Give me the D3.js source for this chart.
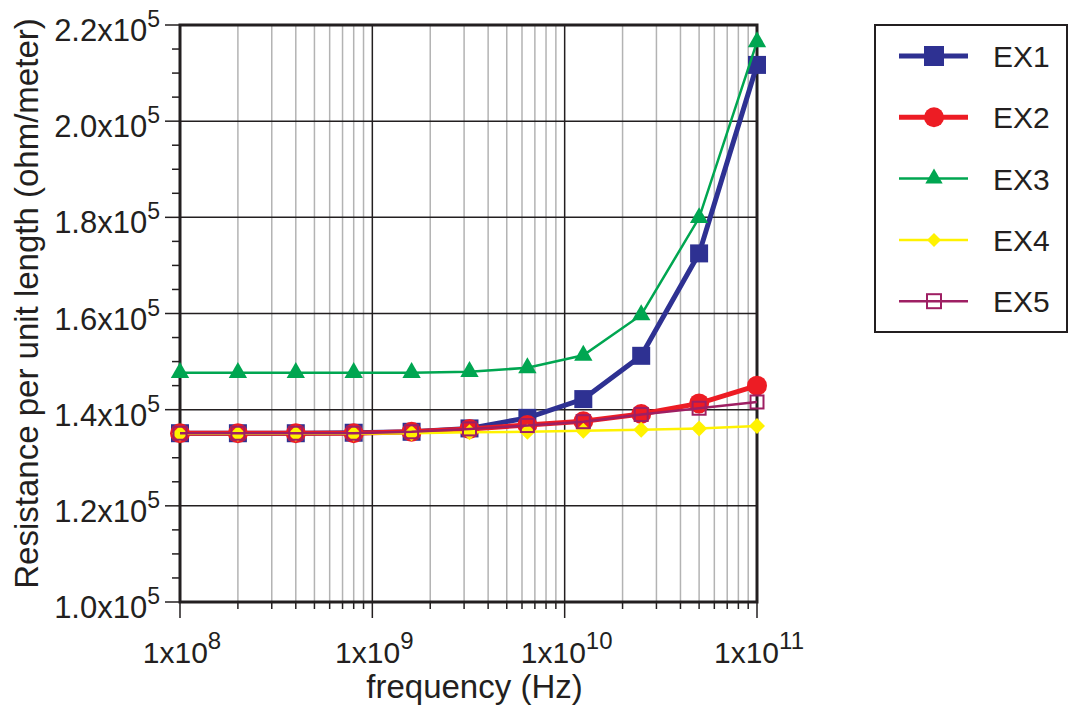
<!DOCTYPE html>
<html>
<head>
<meta charset="utf-8">
<script src="https://cdn.jsdelivr.net/npm/d3@7"></script>
<style>
  body { margin: 0; background: #fff; }
  text { font-family: "Liberation Sans", Arial, Helvetica, sans-serif; fill: #231f20; }
</style>
</head>
<body>
<div id="chart"></div>
<script>
// frequencies (Hz)
const freqs = [1e8, 2e8, 4e8, 8e8, 1.6e9, 3.2e9, 6.4e9, 1.25e10, 2.5e10, 5e10, 1e11];

// resistance per unit length, in units of 1e5 ohm/m
const ex1 = [1.351, 1.351, 1.351, 1.352, 1.354, 1.361, 1.383, 1.422, 1.512, 1.725, 2.117];
const ex2 = [1.351, 1.351, 1.351, 1.351, 1.354, 1.360, 1.368, 1.376, 1.391, 1.413, 1.450];
const ex3 = [1.477, 1.477, 1.477, 1.477, 1.477, 1.479, 1.487, 1.513, 1.597, 1.799, 2.165];
const ex4 = [1.350, 1.350, 1.350, 1.350, 1.351, 1.353, 1.354, 1.356, 1.358, 1.361, 1.366];
const ex5 = [1.351, 1.351, 1.351, 1.351, 1.354, 1.360, 1.367, 1.375, 1.390, 1.403, 1.416];

const seriesNames = ["EX1", "EX2", "EX3", "EX4", "EX5"];
const yTicks = [1.0, 1.2, 1.4, 1.6, 1.8, 2.0, 2.2];
const xTicks = [1e8, 1e9, 1e10, 1e11];

const styles = {
  EX1: { color: "#2e3192", width: 5, shape: "square" },
  EX2: { color: "#ed1c24", width: 5, shape: "circle" },
  EX3: { color: "#00a651", width: 2.5, shape: "triangle" },
  EX4: { color: "#fff200", width: 2.5, shape: "diamond" },
  EX5: { color: "#9e1f63", width: 2.5, shape: "open" }
};

const series = [ex1, ex2, ex3, ex4, ex5].map((vals, i) => ({
  name: seriesNames[i],
  values: vals.map((v, j) => ({ f: freqs[j], r: v * 1e5 }))
}));

const W = 1068, H = 710;
const margin = { top: 25, right: 311, bottom: 108, left: 180 };
const width = W - margin.left - margin.right;
const height = H - margin.top - margin.bottom;

const svg = d3.select("#chart").append("svg")
  .attr("width", W).attr("height", H);

const g = svg.append("g").attr("transform", `translate(${margin.left},${margin.top})`);

const x = d3.scaleLog().domain([1e8, 1e11]).range([0, width]);
const y = d3.scaleLinear().domain([1.0e5, 2.2e5]).range([height, 0]);

// minor vertical gridlines
const minorX = [];
for (let e = 8; e < 11; e++) for (let m = 2; m <= 9; m++) minorX.push(m * Math.pow(10, e));

g.append("g").selectAll("line").data(minorX).join("line")
  .attr("x1", d => x(d)).attr("x2", d => x(d))
  .attr("y1", 0).attr("y2", height)
  .attr("stroke", "#b3b3b3").attr("stroke-width", 1.5);

g.append("g").selectAll("line").data(xTicks).join("line")
  .attr("x1", d => x(d)).attr("x2", d => x(d))
  .attr("y1", 0).attr("y2", height)
  .attr("stroke", "#231f20").attr("stroke-width", 1.5);

g.append("g").selectAll("line").data(yTicks).join("line")
  .attr("x1", 0).attr("x2", width)
  .attr("y1", d => y(d * 1e5)).attr("y2", d => y(d * 1e5))
  .attr("stroke", "#231f20").attr("stroke-width", 1.5);

// y axis ticks
const minorY = d3.range(1.0, 2.2001, 0.05).map(d => +d.toFixed(2));
g.append("g").selectAll("line").data(minorY).join("line")
  .attr("x1", d => yTicks.includes(d) ? -15 : -8).attr("x2", 0)
  .attr("y1", d => y(d * 1e5)).attr("y2", d => y(d * 1e5))
  .attr("stroke", "#231f20").attr("stroke-width", 1.5);

const yLab = g.append("g").selectAll("text").data(yTicks).join("text")
  .attr("x", -20).attr("y", d => y(d * 1e5) + 16)
  .attr("text-anchor", "end").attr("font-size", 31);
yLab.append("tspan").text(d => d.toFixed(1) + "x10");
yLab.append("tspan").attr("font-size", 23).attr("dy", -14).text("5");

// x axis ticks
g.append("g").selectAll("line").data(minorX.concat(xTicks)).join("line")
  .attr("x1", d => x(d)).attr("x2", d => x(d))
  .attr("y1", height).attr("y2", d => xTicks.includes(d) ? height + 16 : height + 7)
  .attr("stroke", "#231f20").attr("stroke-width", 1.5);

const xLab = g.append("g").selectAll("text").data(xTicks).join("text")
  .attr("x", d => x(d) + 2).attr("y", height + 61)
  .attr("text-anchor", "middle").attr("font-size", 30);
xLab.append("tspan").text("1x10");
xLab.append("tspan").attr("font-size", 24).attr("dy", -14).text(d => Math.round(Math.log10(d)));

// frame
g.append("rect").attr("width", width).attr("height", height)
  .attr("fill", "none").attr("stroke", "#231f20").attr("stroke-width", 3);

// axis titles
svg.append("text")
  .attr("x", margin.left + width / 2 + 6).attr("y", 698)
  .attr("text-anchor", "middle").attr("font-size", 33)
  .text("frequency (Hz)");

svg.append("text")
  .attr("transform", `translate(38, ${margin.top + height / 2 - 10}) rotate(-90)`)
  .attr("text-anchor", "middle").attr("font-size", 33)
  .text("Resistance per unit length (ohm/meter)");

// markers
function drawMarker(sel, shape, color, size) {
  if (shape === "square") {
    sel.append("rect").attr("x", -size / 2).attr("y", -size / 2)
      .attr("width", size).attr("height", size).attr("fill", color);
  } else if (shape === "circle") {
    sel.append("circle").attr("r", size / 2).attr("fill", color);
  } else if (shape === "triangle") {
    sel.append("path").attr("d", d3.symbol(d3.symbolTriangle, size * size * 0.45)()).attr("fill", color);
  } else if (shape === "diamond") {
    const h = size / 2;
    sel.append("path").attr("d", `M0,${-h}L${h},0L0,${h}L${-h},0Z`).attr("fill", color);
  } else if (shape === "open") {
    sel.append("rect").attr("x", -size / 2).attr("y", -size / 2)
      .attr("width", size).attr("height", size)
      .attr("fill", "none").attr("stroke", color).attr("stroke-width", 2);
  }
}

const markerSize = { EX1: 18, EX2: 20, EX3: 18, EX4: 16, EX5: 13 };

const line = d3.line().x(d => x(d.f)).y(d => y(d.r));

series.forEach(s => {
  const st = styles[s.name];
  const sg = g.append("g").attr("class", "series");
  sg.append("path").datum(s.values)
    .attr("d", line).attr("fill", "none")
    .attr("stroke", st.color).attr("stroke-width", st.width);
  sg.selectAll("g.pt").data(s.values).join("g")
    .attr("class", "pt")
    .attr("transform", d => `translate(${x(d.f)},${y(d.r)})`)
    .each(function () { drawMarker(d3.select(this), st.shape, st.color, markerSize[s.name]); });
});

// legend
const lg = svg.append("g");
lg.append("rect").attr("x", 875).attr("y", 25).attr("width", 192).attr("height", 307)
  .attr("fill", "#fff").attr("stroke", "#231f20").attr("stroke-width", 2);

const legendSize = { EX1: 20, EX2: 20, EX3: 17, EX4: 14, EX5: 14 };
seriesNames.forEach((name, i) => {
  const st = styles[name];
  const ly = 56 + i * 61.3;
  const item = lg.append("g").attr("transform", `translate(0,${ly})`);
  item.append("line").attr("x1", 899).attr("x2", 968).attr("y1", 0).attr("y2", 0)
    .attr("stroke", st.color).attr("stroke-width", st.width);
  const m = item.append("g").attr("transform", "translate(934,0)");
  drawMarker(m, st.shape, st.color, legendSize[name]);
  item.append("text").attr("x", 993).attr("y", 11).attr("font-size", 30).text(name);
});
</script>
</body>
</html>
